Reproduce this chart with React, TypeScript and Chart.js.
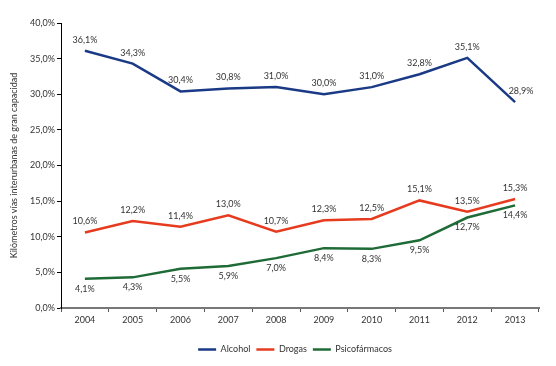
import React, { useEffect, useRef } from "react";
import { Chart, registerables } from "chart.js";

Chart.register(...registerables);

const years = ["2004", "2005", "2006", "2007", "2008", "2009", "2010", "2011", "2012", "2013"];
const alcohol = [36.1, 34.3, 30.4, 30.8, 31.0, 30.0, 31.0, 32.8, 35.1, 28.9];
const drogas = [10.6, 12.2, 11.4, 13.0, 10.7, 12.3, 12.5, 15.1, 13.5, 15.3];
const psicofarmacos = [4.1, 4.3, 5.5, 5.9, 7.0, 8.4, 8.3, 9.5, 12.7, 14.4];
const seriesNames = ["Alcohol", "Drogas", "Psicofármacos"];
const yTitle = "Kilómetros vías interurbanas de gran capacidad";

const FONT = "Lato, 'Open Sans', sans-serif";
const fmt = (v: number) => v.toFixed(1).replace(".", ",") + "%";

const labelPlugin = {
  id: "valueLabels",
  afterDatasetsDraw(chart: any) {
    const ctx = chart.ctx;
    ctx.save();
    ctx.font = `9px ${FONT}`;
    ctx.fillStyle = "#333";
    ctx.textAlign = "center";
    ctx.textBaseline = "middle";
    chart.data.datasets.forEach((ds: any, i: number) => {
      const meta = chart.getDatasetMeta(i);
      meta.data.forEach((pt: any, j: number) => {
        const below = i === 2;
        const off = below ? 10 : -11;
        // last alcohol label sits up-right of its point, clear of the falling line
        const dx = i === 0 && j === ds.data.length - 1 ? 6 : 0;
        ctx.fillText(fmt(ds.data[j]), pt.x + dx, pt.y + off);
      });
    });
    ctx.restore();
  },
};

const legendShift = {
  id: "legendShift",
  afterLayout(chart: any) {
    if (chart.legend) {
      chart.legend.left += 21;
      chart.legend.right += 21;
    }
  },
};

export default function App() {
  const ref = useRef<HTMLCanvasElement>(null);
  useEffect(() => {
    if (!ref.current) return;
    const chart = new Chart(ref.current, {
      type: "line",
      data: {
        labels: years,
        datasets: [
          { label: seriesNames[0], data: alcohol, borderColor: "#1B3A86", backgroundColor: "#1B3A86", borderWidth: 2.5, pointRadius: 0, tension: 0 },
          { label: seriesNames[1], data: drogas, borderColor: "#E63B1F", backgroundColor: "#E63B1F", borderWidth: 2.5, pointRadius: 0, tension: 0 },
          { label: seriesNames[2], data: psicofarmacos, borderColor: "#1F6B37", backgroundColor: "#1F6B37", borderWidth: 2.5, pointRadius: 0, tension: 0 },
        ],
      },
      options: {
        animation: false,
        responsive: true,
        maintainAspectRatio: false,
        layout: { padding: { top: 23, right: 17, bottom: 2, left: 9 } },
        plugins: {
          tooltip: { enabled: false },
          legend: {
            position: "bottom",
            labels: {
              usePointStyle: true,
              pointStyle: "line",
              pointStyleWidth: 18,
              boxHeight: 2,
              padding: 6,
              color: "#333",
              font: { family: FONT, size: 9 },
            },
          },
        },
        scales: {
          x: {
            offset: true,
            grid: { offset: true, drawOnChartArea: false, tickLength: 4, color: "#555", tickColor: "#555" },
            border: { color: "#777", width: 2 },
            ticks: { color: "#333", padding: 3, font: { family: FONT, size: 9 } },
            afterFit: (s: any) => { s.height = 31; },
          },
          y: {
            min: 0,
            max: 40,
            grid: { drawOnChartArea: false, tickLength: 4, color: "#000" },
            border: { color: "#000", width: 1 },
            ticks: { stepSize: 5, color: "#333", padding: 2, font: { family: FONT, size: 9 }, callback: (v: any) => fmt(Number(v)) },
            title: { display: true, text: yTitle, color: "#333", padding: 0, font: { family: FONT, size: 9 } },
            afterFit: (s: any) => { s.width = 52; },
          },
        },
      },
      plugins: [labelPlugin, legendShift],
    });
    return () => chart.destroy();
  }, []);
  return (
    <div style={{ position: "fixed", left: 0, top: 0, width: 556, height: 366, background: "#fff" }}>
      <canvas ref={ref} />
    </div>
  );
}
